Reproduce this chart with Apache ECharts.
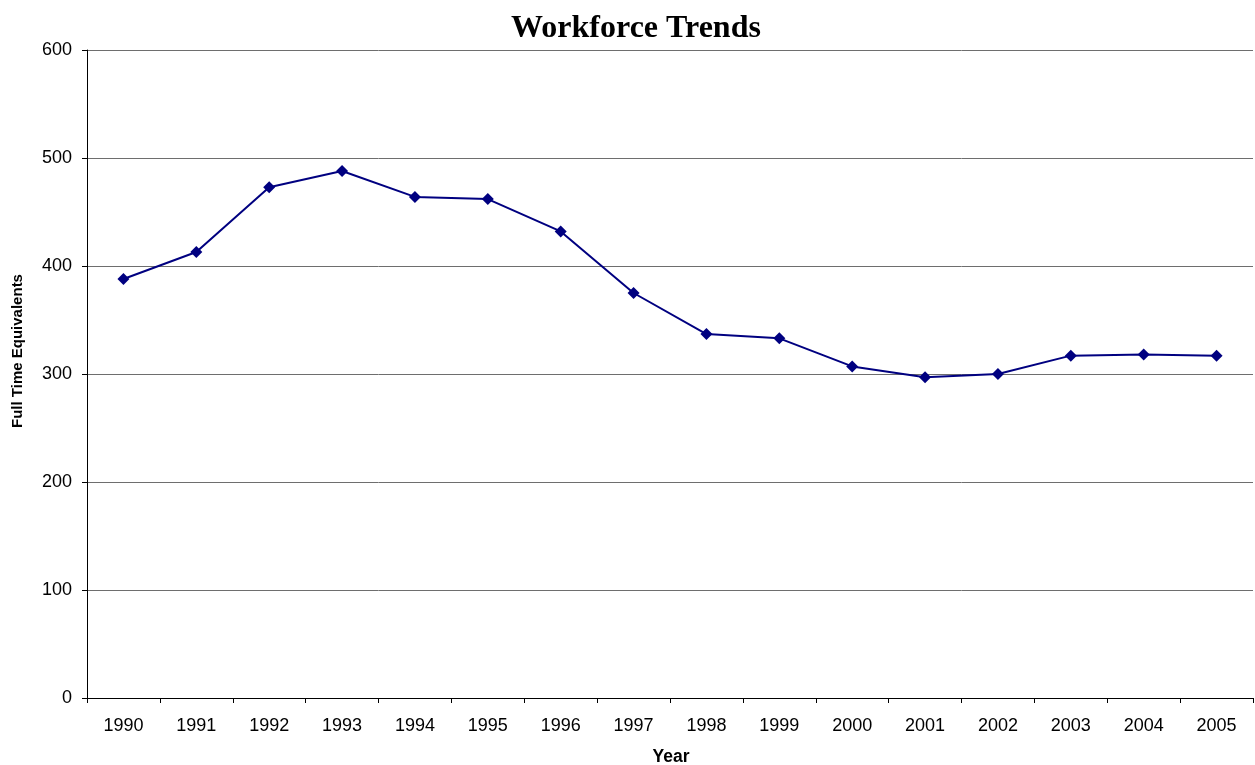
<!DOCTYPE html>
<html>
<head>
<meta charset="utf-8">
<script src="https://cdn.jsdelivr.net/npm/echarts@6/dist/echarts.min.js"></script>
<style>
html,body{margin:0;padding:0;background:#fff;}
#chart{width:1255px;height:765px;}
</style>
</head>
<body>
<div id="chart"></div>
<script>
const years = ['1990','1991','1992','1993','1994','1995','1996','1997','1998','1999','2000','2001','2002','2003','2004','2005'];
const fte = [388, 413, 473, 488, 464, 462, 432, 375, 337, 333, 307, 297, 300, 317, 318, 317];
const yTicks = [0, 100, 200, 300, 400, 500, 600];

const chart = echarts.init(document.getElementById('chart'), null, {renderer: 'canvas'});
chart.setOption({
  animation: false,
  backgroundColor: '#ffffff',
  graphic: [
    {
      type: 'text',
      x: 636, y: 29,
      style: {text: 'Workforce Trends', fontFamily: 'Liberation Serif', fontWeight: 'bold', fontSize: 32, fill: '#000', align: 'center', verticalAlign: 'middle'}
    },
    {
      type: 'text',
      x: 18, y: 351,
      rotation: Math.PI / 2,
      style: {text: 'Full Time Equivalents', fontFamily: 'Liberation Sans', fontWeight: 'bold', fontSize: 15, fill: '#000', align: 'center', verticalAlign: 'middle'}
    },
    {
      type: 'text',
      x: 671, y: 757,
      style: {text: 'Year', fontFamily: 'Liberation Sans', fontWeight: 'bold', fontSize: 17.5, fill: '#000', align: 'center', verticalAlign: 'middle'}
    }
  ],
  grid: {left: 87, right: 2, top: 50, bottom: 67, containLabel: false},
  xAxis: {
    type: 'category',
    data: years,
    boundaryGap: true,
    axisLine: {lineStyle: {color: '#000', width: 1}},
    axisTick: {show: true, length: 5, inside: false, alignWithLabel: false, lineStyle: {color: '#000'}},
    axisLabel: {fontFamily: 'Liberation Sans', fontSize: 18, color: '#000', margin: 19, interval: 0},
    splitLine: {show: false}
  },
  yAxis: {
    type: 'value',
    min: yTicks[0],
    max: yTicks[yTicks.length - 1],
    interval: 100,
    axisLine: {show: true, lineStyle: {color: '#000', width: 1}},
    axisTick: {show: true, length: 5, lineStyle: {color: '#000'}},
    axisLabel: {fontFamily: 'Liberation Sans', fontSize: 18, color: '#000', margin: 15},
    splitLine: {show: true, lineStyle: {color: '#6e6e6e', width: 1}}
  },
  series: [{
    type: 'line',
    data: fte,
    symbol: 'diamond',
    symbolSize: [12, 12],
    lineStyle: {color: '#000080', width: 2},
    itemStyle: {color: '#000080'}
  }]
});
</script>
</body>
</html>
